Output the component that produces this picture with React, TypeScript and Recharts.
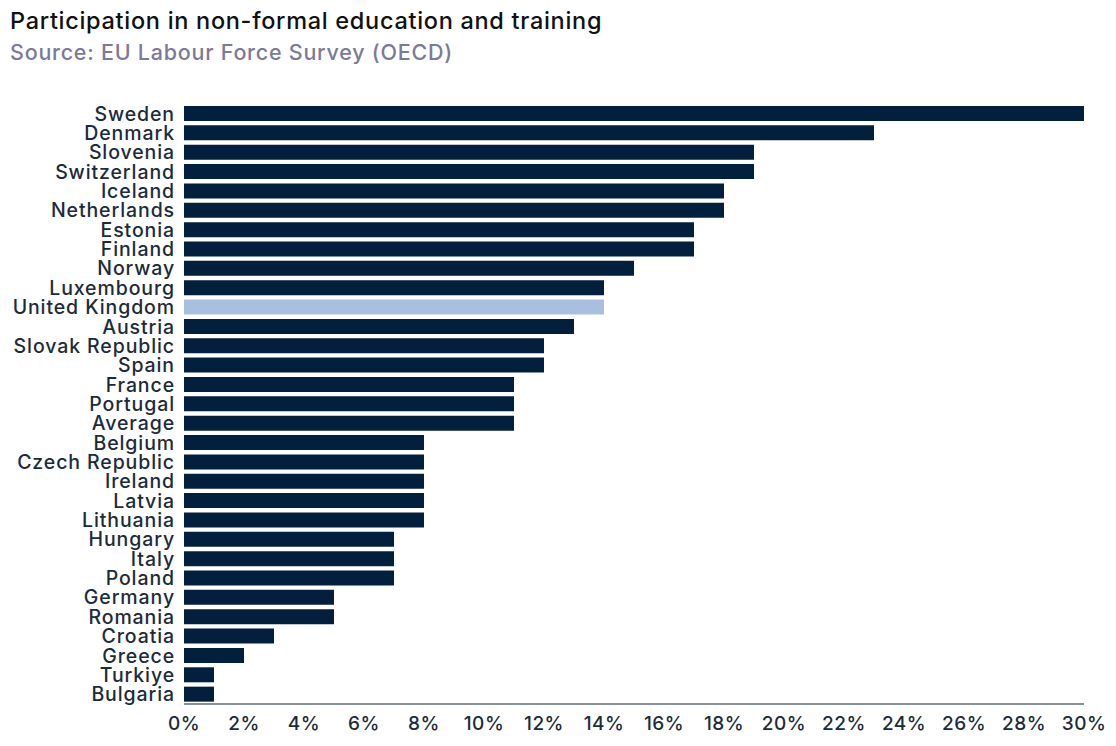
import { BarChart, Bar, XAxis, YAxis, Cell } from 'recharts';

const countries = [
	'Sweden', 'Denmark', 'Slovenia', 'Switzerland', 'Iceland', 'Netherlands', 'Estonia', 'Finland',
	'Norway', 'Luxembourg', 'United Kingdom', 'Austria', 'Slovak Republic', 'Spain', 'France',
	'Portugal', 'Average', 'Belgium', 'Czech Republic', 'Ireland', 'Latvia', 'Lithuania', 'Hungary',
	'Italy', 'Poland', 'Germany', 'Romania', 'Croatia', 'Greece', 'Turkiye', 'Bulgaria',
];

const participation = [30, 23, 19, 19, 18, 18, 17, 17, 15, 14, 14, 13, 12, 12, 11, 11, 11, 8, 8, 8, 8, 8, 7, 7, 7, 5, 5, 3, 2, 1, 1];

const xTicks = [0, 2, 4, 6, 8, 10, 12, 14, 16, 18, 20, 22, 24, 26, 28, 30];

const highlighted = 'United Kingdom';

const data = countries.map((name, i) => ({ name, value: participation[i] }));

const FONT = 'Inter, "Noto Sans", sans-serif';
const NAVY = '#021f3d';
const TEXT = '#1b2b3a';

export default function App() {
	return (
		<div style={{ position: 'relative', width: 1116, height: 746, margin: -8, background: '#fff', fontFamily: FONT }}>
			<div style={{ position: 'absolute', left: 10, top: 7, fontSize: 23.5, fontWeight: 500, letterSpacing: 0.7, color: '#111', lineHeight: '28px' }}>
				Participation in non-formal education and training
			</div>
			<div style={{ position: 'absolute', left: 10, top: 38, fontSize: 21.5, fontWeight: 500, letterSpacing: 0.75, color: '#7b7a98', lineHeight: '28px' }}>
				Source: EU Labour Force Survey (OECD)
			</div>
			<BarChart
				width={1116}
				height={746}
				data={data}
				layout="vertical"
				margin={{ top: 104, right: 32, bottom: 0, left: 0 }}
				barCategoryGap={2}
			>
				<XAxis
					type="number"
					domain={[0, 30]}
					ticks={xTicks}
					tickFormatter={(v) => `${v}%`}
					height={42}
					axisLine={{ stroke: '#87919a', strokeWidth: 2 }}
					tickLine={false}
					tickSize={0}
					tickMargin={13}
					tick={{ fontSize: 19, fontWeight: 500, letterSpacing: 0.5, fill: TEXT, fontFamily: FONT }}
					interval={0}
				/>
				<YAxis
					type="category"
					dataKey="name"
					width={184}
					axisLine={false}
					tickLine={false}
					tickSize={0}
					tickMargin={9}
					interval={0}
					tick={{ fontSize: 19.5, fontWeight: 500, letterSpacing: 0.9, fill: TEXT, fontFamily: FONT }}
				/>
				<Bar dataKey="value" isAnimationActive={false}>
					{data.map((d) => (
						<Cell key={d.name} fill={d.name === highlighted ? '#a9bfdf' : NAVY} />
					))}
				</Bar>
			</BarChart>
		</div>
	);
}
